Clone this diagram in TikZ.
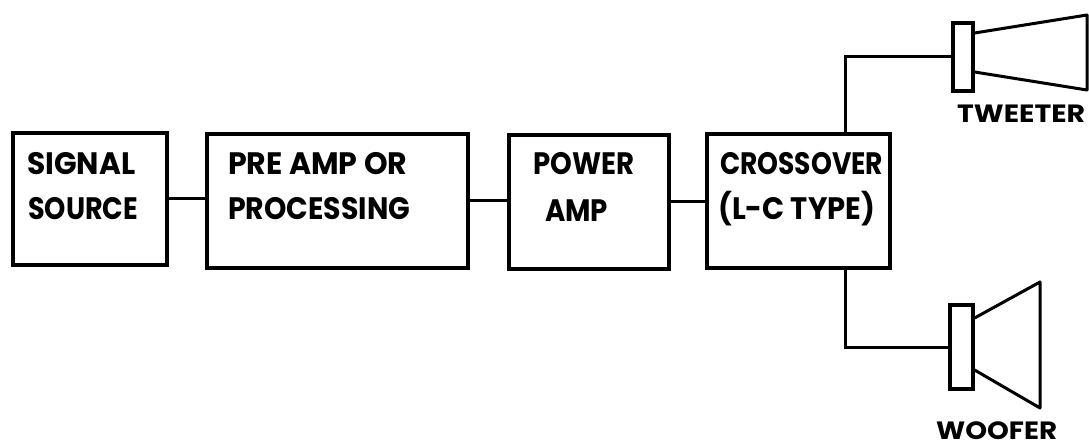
\documentclass[tikz,border=0pt]{standalone}
\usepackage{fontspec}
\usepackage{graphicx}
\setmainfont{Poppins}[BoldFont={* Bold}]
\newcommand\fitw[2]{\resizebox{#1pt}{\height}{#2}}
\begin{document}
\begin{tikzpicture}[x=1pt,y=-1pt,
  blk/.style={draw=black, line width=3.2pt, rectangle, inner sep=0pt},
  wire/.style={draw=black, line width=3pt},
  lbl/.style={anchor=base west, inner sep=0pt, font=\bfseries\fontsize{31}{31}\selectfont},
  slbl/.style={anchor=base west, inner sep=0pt, text depth=0pt, font=\bfseries\fontsize{25}{25}\selectfont}]
\useasboundingbox[fill=white] (0,0) rectangle (1089,446);
% blocks
\node[blk, minimum width=154pt, minimum height=132pt] (src) at (90,199) {};
\node[blk, minimum width=261pt, minimum height=134pt] (pre) at (337.5,201) {};
\node[blk, minimum width=160pt, minimum height=134pt] (pwr) at (589,202) {};
\node[blk, minimum width=183pt, minimum height=134pt] (xo) at (798.5,201) {};
% labels
\node[lbl] (t1) at (27,175) {\fitw{108}{SIGNAL}};
\node[lbl] (t2) at (28,220) {\fitw{110}{SOURCE}};
\node[lbl] (t3) at (228,175) {\fitw{179}{PRE AMP OR}};
\node[lbl] (t4) at (228,220) {\fitw{182}{PROCESSING}};
\node[lbl] (t5) at (533,175) {\fitw{101}{POWER}};
\node[lbl] (t6) at (545,222) {\fitw{63}{AMP}};
\node[lbl] (t7) at (720,175) {\fitw{163}{CROSSOVER}};
\node[lbl] (t8) at (718,220) {\fitw{157}{(L-C TYPE)}};
% connectors
\draw[wire] (src.east) -- (src.east -| pre.west);
\draw[wire] (pre.east) -- (pre.east -| pwr.west);
\draw[wire] (pwr.east) -- (pwr.east -| xo.west);
% speakers
\node[blk, minimum width=20pt, minimum height=68pt] (tw) at (963,57) {};
\node[blk, minimum width=23pt, minimum height=84pt] (wf) at (961.5,347) {};
\draw[wire, line join=round] (tw.east |- 0,33) -- (1087,15) -- (1087,90) -- (tw.east |- 0,72);
\draw[wire, line join=round] (wf.east |- 0,318) -- (1040,282) -- (1040,408) -- (wf.east |- 0,370);
\coordinate (tap) at (845,0);
\draw[wire] (tap |- xo.north) |- (tw.west);
\draw[wire] (tap |- xo.south) |- (wf.west);
\node[slbl] (tt) at (957,123) {\fitw{128}{TWEETER}};
\node[slbl] (wt) at (936,439) {\fitw{121}{WOOFER}};
\end{tikzpicture}
\end{document}
